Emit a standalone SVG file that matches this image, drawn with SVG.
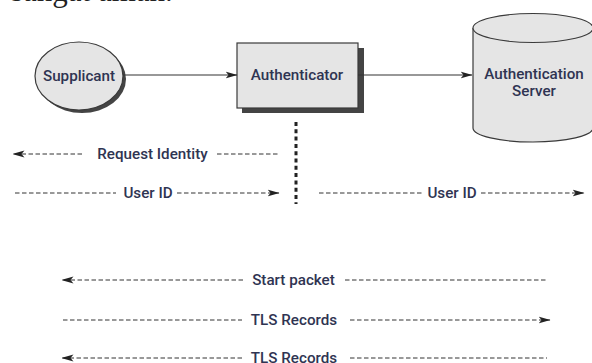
<svg xmlns="http://www.w3.org/2000/svg" width="592" height="363" viewBox="0 0 592 363">
<style>
.lbl{font-family:Roboto,"Liberation Sans",Arial,sans-serif;font-weight:500;font-size:15.2px;fill:#2f3452;text-anchor:middle}
.node{fill:#e5e5e5;stroke:#3a3a3a;stroke-width:1.2}
.shadow{fill:#444}
.solid{stroke:#333;stroke-width:1.2;fill:none}
.dash{stroke:#333;stroke-width:1;fill:none;stroke-dasharray:4.5 2.5}
.vdot{stroke:#222;stroke-width:3;fill:none;stroke-dasharray:4 3.3}
</style>
<defs>
<marker id="ah" viewBox="0 0 12 8" refX="11.5" refY="4" markerWidth="12" markerHeight="8" markerUnits="userSpaceOnUse" orient="auto-start-reverse">
<path d="M0,0.5 L12,4 L0,7.5 L3,4 Z" fill="#222"/>
</marker>
</defs>
<rect width="592" height="363" fill="#fff"/>
<text x="11" y="1" font-family="Liberation Serif, serif" font-size="31" fill="#222">sangat aman.</text>

<g id="supplicant">
<ellipse class="shadow" cx="82" cy="79" rx="44" ry="34"/>
<ellipse class="node" cx="79" cy="76" rx="44" ry="34"/>
<text class="lbl" x="79" y="81">Supplicant</text>
</g>

<g id="authenticator">
<rect class="shadow" x="242" y="48" width="122" height="65"/>
<rect class="node" x="237" y="43" width="121" height="65"/>
<text class="lbl" x="297" y="80">Authenticator</text>
</g>

<g id="auth-server">
<path class="node" d="M473,28 V128 A60,14 0 0 0 593,128 V28"/>
<ellipse class="node" cx="533" cy="28" rx="60" ry="14.5"/>
<text class="lbl" x="534" y="79">Authentication</text>
<text class="lbl" x="534" y="96">Server</text>
</g>

<g id="connectors">
<line class="solid" x1="123" y1="75" x2="237" y2="75" marker-end="url(#ah)"/>
<line class="solid" x1="358" y1="75" x2="472" y2="75" marker-end="url(#ah)"/>
<line class="vdot" x1="296" y1="122" x2="296" y2="204"/>

<line class="dash" x1="82" y1="154" x2="13" y2="154" marker-end="url(#ah)"/>
<line class="dash" x1="217" y1="154" x2="278" y2="154"/>
<text class="lbl" x="152.5" y="159">Request Identity</text>

<line class="dash" x1="15" y1="193" x2="116" y2="193"/>
<line class="dash" x1="177" y1="193" x2="279" y2="193" marker-end="url(#ah)"/>
<text class="lbl" x="148" y="198">User ID</text>

<line class="dash" x1="319" y1="193" x2="423" y2="193"/>
<line class="dash" x1="481" y1="193" x2="584" y2="193" marker-end="url(#ah)"/>
<text class="lbl" x="452" y="198">User ID</text>

<line class="dash" x1="243" y1="280" x2="62" y2="280" marker-end="url(#ah)"/>
<line class="dash" x1="345" y1="280" x2="547" y2="280"/>
<text class="lbl" x="293.5" y="285">Start packet</text>

<line class="dash" x1="63" y1="320" x2="242" y2="320"/>
<line class="dash" x1="350" y1="320" x2="550" y2="320" marker-end="url(#ah)"/>
<text class="lbl" x="294" y="325">TLS Records</text>

<line class="dash" x1="242" y1="358" x2="62" y2="358" marker-end="url(#ah)"/>
<line class="dash" x1="350" y1="358" x2="547" y2="358"/>
<text class="lbl" x="294" y="363">TLS Records</text>
</g>
</svg>
